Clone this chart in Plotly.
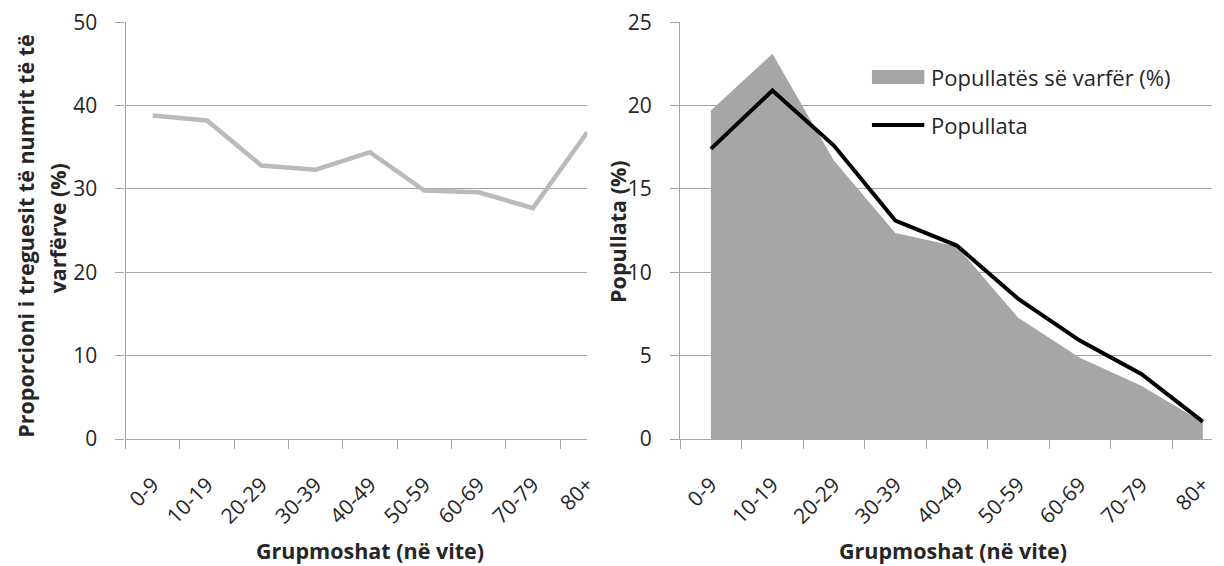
import plotly.graph_objects as go

categories = ["0-9", "10-19", "20-29", "30-39", "40-49", "50-59", "60-69", "70-79", "80+"]
headcount_ratio = [38.8, 38.2, 32.8, 32.3, 34.4, 29.8, 29.6, 27.7, 36.8]
poor_population_share = [19.7, 23.1, 16.7, 12.35, 11.55, 7.27, 4.88, 3.19, 1.0]
population_share = [17.4, 20.9, 17.6, 13.1, 11.6, 8.4, 5.9, 3.9, 1.04]

left_title_1 = "Proporcioni i treguesit të numrit të të"
left_title_2 = "varfërve (%)"
right_title = "Popullata (%)"
x_title = "Grupmoshat (në vite)"
legend_area = "Popullatës së varfër (%)"
legend_line = "Popullata"

FONT = "Open Sans"
TXT = "#262626"
GRID = "#a6a6a6"
AREA = "#a6a6a6"

W, H = 1224, 566
TOP, BOT = 22, 439          # plot area top / bottom in px
PH = BOT - TOP


def px(xp):
    return xp / W


def py(yp):
    return (BOT - yp) / PH


fig = go.Figure()

fig.add_trace(go.Scatter(x=categories, y=headcount_ratio, mode="lines",
                         line=dict(color="#bababa", width=4.5),
                         showlegend=False, xaxis="x", yaxis="y"))
fig.add_trace(go.Scatter(x=categories, y=poor_population_share, mode="lines",
                         fill="tozeroy", fillcolor=AREA,
                         line=dict(width=0, color=AREA),
                         name=legend_area, showlegend=False,
                         xaxis="x2", yaxis="y2"))
fig.add_trace(go.Scatter(x=categories, y=population_share, mode="lines",
                         line=dict(color="black", width=4),
                         name=legend_line, showlegend=False,
                         xaxis="x2", yaxis="y2"))

common = dict(showline=True, linecolor=GRID, linewidth=1.3,
              ticks="outside", ticklen=9, tickcolor=GRID, tickwidth=1.3,
              tickfont=dict(family=FONT, size=21, color=TXT))
xcommon = dict(type="category", tickson="boundaries", tickangle=-45,
               showgrid=False, categoryorder="array", categoryarray=categories,
               ticklabelstandoff=24, **common)
ycommon = dict(domain=[0, 1], showgrid=True, gridcolor=GRID, gridwidth=1.3,
               zeroline=False, ticklabelstandoff=14, **common)

fig.update_layout(
    width=W, height=H,
    margin=dict(l=0, r=0, t=TOP, b=H - BOT),
    paper_bgcolor="white", plot_bgcolor="white",
    font=dict(family=FONT, color=TXT),
    showlegend=False,
    xaxis=dict(domain=[px(125), px(592)], range=[-0.5, 8.0], anchor="y", **xcommon),
    yaxis=dict(range=[0, 50.02], tickvals=[0, 10, 20, 30, 40, 50], anchor="x", **ycommon),
    xaxis2=dict(domain=[px(686), 1.0], range=[-0.5, 8.15], anchor="y2", **xcommon),
    yaxis2=dict(range=[0, 25.01], tickvals=[0, 5, 10, 15, 20, 25], anchor="x2", **ycommon),
)

# legend drawn by hand (Excel-style wide swatches)
fig.add_shape(type="rect", xref="paper", yref="paper",
              x0=px(880), x1=px(933), y0=py(84), y1=py(70),
              fillcolor=AREA, line=dict(width=0))
fig.add_shape(type="line", xref="paper", yref="paper",
              x0=px(880), x1=px(933), y0=py(125), y1=py(125),
              line=dict(color="black", width=4))

bold = dict(family=FONT, size=21.5, color=TXT, weight="bold")
ann = [
    dict(text=left_title_1, x=px(24), y=py(236), textangle=-90),
    dict(text=left_title_2, x=px(56), y=py(228), textangle=-90),
    dict(text=right_title, x=px(622), y=py(231), textangle=-90),
    dict(text=x_title, x=px(372), y=py(550)),
    dict(text=x_title, x=px(962), y=py(550)),
]
for a in ann:
    fig.add_annotation(xref="paper", yref="paper", xanchor="center", yanchor="middle",
                       showarrow=False, font=bold, **a)

legend_font = dict(family=FONT, size=22, color=TXT)
for label, yy in [(legend_area, 77), (legend_line, 125)]:
    fig.add_annotation(text=label, xref="paper", yref="paper", x=px(938), y=py(yy),
                       xanchor="left", yanchor="middle", showarrow=False, font=legend_font)

fig.write_html("out.html", config={"displayModeBar": False},
               post_script="document.body.style.margin='0';"
                           "document.body.style.overflow='hidden';")
